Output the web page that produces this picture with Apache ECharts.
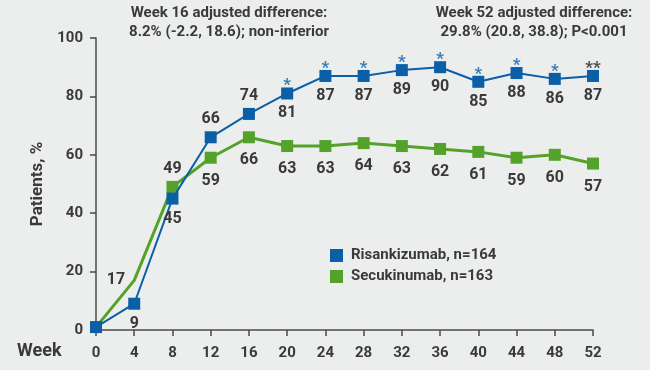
<!DOCTYPE html>
<html><head><meta charset="utf-8">
<script src="https://cdn.jsdelivr.net/npm/echarts@6/dist/echarts.min.js"></script>
<style>html,body{margin:0;padding:0;background:#eceeed}#c{width:650px;height:370px}</style>
</head><body><div id="c"></div>
<script>
const weeks = [0,4,8,12,16,20,24,28,32,36,40,44,48,52];
const xTicks = [0,4,8,12,16,20,24,28,32,36,40,44,48,52];
const yTicks = [0,20,40,60,80,100];
const risa = [1,9,45,66,74,81,87,87,89,90,85,88,86,87];
const secu = [1,17,49,59,66,63,63,64,63,62,61,59,60,57];
const risaStars = ['','','','','','*','*','*','*','*','*','*','*','**'];
const risaLabelPos = ['none','bottom','bottom','top','top','bottom','bottom','bottom','bottom','bottom','bottom','bottom','bottom','bottom'];
const secuLabelPos = ['none','left','top','bottom','bottom','bottom','bottom','bottom','bottom','bottom','bottom','bottom','bottom','bottom'];
const secuMarker = [false,false,true,true,true,true,true,true,true,true,true,true,true,true];
const names = ['Risankizumab, n=164','Secukinumab, n=163'];
const note16 = ['Week 16 adjusted difference:','8.2% (-2.2, 18.6); non-inferior'];
const note52 = ['Week 52 adjusted difference:','29.8% (20.8, 38.8); P<0.001'];

const BLUE = '#0a5fa6', GREEN = '#55a22a', TXT = '#3a3a3a', AX = '#4a4a4a';
const FONT = 'Roboto';
const MS = 12;
const chart = echarts.init(document.getElementById('c'));

const lbl = (pos, extra) => ({
  show: pos !== 'none', position: pos === 'none' ? 'top' : pos,
  distance: pos === 'left' ? 9 : (pos === 'top' ? 4 : (extra || 6)),
  color: TXT, fontFamily: FONT, fontWeight: 'bold', fontSize: 16
});

chart.setOption({
  backgroundColor: '#eceeed',
  animation: false,
  grid: {left: 96, right: 57, top: 38, bottom: 40},
  xAxis: {
    type: 'value', min: 0, max: 52, interval: 4,
    axisLine: {onZero: false, lineStyle: {color: AX, width: 1.5}},
    axisTick: {length: 6, lineStyle: {color: AX, width: 1.5}},
    splitLine: {show: false},
    axisLabel: {margin: 16, color: TXT, fontFamily: FONT, fontWeight: 'bold', fontSize: 15,
      customValues: xTicks},
  },
  yAxis: {
    type: 'value', min: 0, max: 100, interval: 20,
    name: 'Patients, %', nameLocation: 'middle', nameGap: 45,
    nameTextStyle: {color: TXT, fontFamily: FONT, fontWeight: 'bold', fontSize: 17},
    axisLine: {show: true, lineStyle: {color: AX, width: 1.5}},
    axisTick: {show: true, length: 6, lineStyle: {color: AX, width: 1.5}},
    splitLine: {show: false},
    axisLabel: {margin: 13, color: TXT, fontFamily: FONT, fontWeight: 'bold', fontSize: 15},
  },
  legend: {
    orient: 'vertical', left: 325, top: 243, itemWidth: 13, itemHeight: 13, itemGap: 6,
    icon: 'rect', data: names,
    textStyle: {color: TXT, fontFamily: FONT, fontWeight: 'bold', fontSize: 15, padding: [0,0,0,3]}
  },
  graphic: [
    {type: 'text', x: 229, y: 23, style: {text: note16.join('\n'), textAlign: 'center', textVerticalAlign: 'middle',
      fill: TXT, font: 'bold 15px ' + FONT, lineHeight: 19}},
    {type: 'text', x: 534, y: 23, style: {text: note52.join('\n'), textAlign: 'center', textVerticalAlign: 'middle',
      fill: TXT, font: 'bold 15px ' + FONT, lineHeight: 19}},
    {type: 'text', x: 17, y: 351, style: {text: 'Week', textVerticalAlign: 'middle',
      fill: TXT, font: 'bold 18px ' + FONT}}
  ],
  series: [
    {
      name: names[1], type: 'line', z: 2,
      data: weeks.map((w,i) => ({value: [w, secu[i]], symbolSize: secuMarker[i] ? MS : 0,
        label: lbl(secuLabelPos[i], 9)})),
      symbol: 'rect', symbolSize: MS,
      itemStyle: {color: GREEN}, lineStyle: {color: GREEN, width: 3},
      label: {formatter: p => p.value[1]}
    },
    {
      name: names[0], type: 'line', z: 3,
      data: weeks.map((w,i) => ({value: [w, risa[i]], label: lbl(risaLabelPos[i], 6)})),
      symbol: 'rect', symbolSize: MS,
      itemStyle: {color: BLUE}, lineStyle: {color: BLUE, width: 2},
      label: {formatter: p => p.value[1]}
    },
    {
      name: 'stars', type: 'scatter', z: 4, silent: true,
      symbol: 'rect', symbolSize: MS, itemStyle: {color: 'rgba(0,0,0,0)'},
      data: weeks.map((w,i) => ({value: [w, risa[i]], label: {
        show: risaStars[i] !== '', formatter: risaStars[i], position: 'top', distance: 0, offset: [0, 7],
        color: risaStars[i] === '**' ? '#222' : BLUE, fontFamily: FONT, fontWeight: 'bold', fontSize: 17}}))
    }
  ]
});
</script></body></html>
